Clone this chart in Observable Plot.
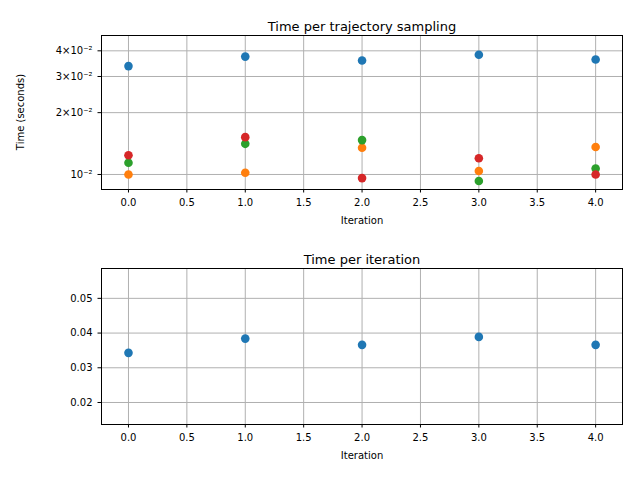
<!DOCTYPE html>
<html>
<head>
<meta charset="utf-8">
<script src="https://cdn.jsdelivr.net/npm/d3@7"></script>
<script src="https://cdn.jsdelivr.net/npm/@observablehq/plot@0.6"></script>
<style>
  body { margin: 0; background: #fff; }
  svg { display: block; font-family: "DejaVu Sans", sans-serif; }
</style>
</head>
<body>
<div id="chart"></div>
<script>
// values
const iterations = [0, 1, 2, 3, 4];
const blueTraj   = [0.0337, 0.0375, 0.0359, 0.0383, 0.0363];
const orangeTraj = [0.0100, 0.0102, 0.0135, 0.0104, 0.0136];
const greenTraj  = [0.0114, 0.0141, 0.0147, 0.0093, 0.0107];
const redTraj    = [0.0124, 0.0152, 0.0096, 0.0120, 0.0100];
const iterTime   = [0.0343, 0.0384, 0.0366, 0.0389, 0.0366];

const seriesColors = ["#1f77b4", "#ff7f0e", "#2ca02c", "#d62728"];
const trajSeries = [blueTraj, orangeTraj, greenTraj, redTraj];
const xTicks = [0, 0.5, 1, 1.5, 2, 2.5, 3, 3.5, 4];
const logTicks = [0.01, 0.02, 0.03, 0.04];
const logLabels = {0.01: "10⁻²", 0.02: "2×10⁻²", 0.03: "3×10⁻²", 0.04: "4×10⁻²"};
const linTicks = [0.02, 0.03, 0.04, 0.05];

const trajRows = [];
trajSeries.forEach((s, i) => s.forEach((v, j) => trajRows.push({x: iterations[j], y: v, c: seriesColors[i]})));
const iterRows = iterTime.map((v, j) => ({x: iterations[j], y: v, c: "#1f77b4"}));

function panel(title, rows, yOpts, yTicks, fmt, mt, mb) {
  return Plot.plot({
    width: 640, height: 240, marginLeft: 101, marginRight: 18, marginTop: mt, marginBottom: mb,
    style: {fontSize: "10px", fontFamily: "DejaVu Sans, sans-serif", color: "#000"},
    x: {domain: [-0.231, 4.23]},
    y: yOpts,
    marks: [
      Plot.gridX(xTicks, {stroke: "#b0b0b0", strokeOpacity: 1}),
      Plot.gridY(yTicks, {stroke: "#b0b0b0", strokeOpacity: 1}),
      Plot.axisX({ticks: xTicks, tickFormat: d => d.toFixed(1), tickSize: 3.5, label: "Iteration", labelAnchor: "center", labelArrow: "none", labelOffset: 34}),
      Plot.axisY({ticks: yTicks, tickFormat: fmt, tickSize: 3.5, label: null}),
      Plot.dot(rows, {x: "x", y: "y", fill: "c", r: 4.3, stroke: "none"}),
      Plot.frame({stroke: "#000"}),
      Plot.text([title], {frameAnchor: "top", dy: -14, fontSize: 13, fill: "#000"})
    ]
  });
}

const topPanel = panel("Time per trajectory sampling", trajRows,
  {type: "log", domain: [0.00845, 0.0475]}, logTicks, d => logLabels[d], 35, 51);
d3.select(topPanel).append("text").attr("transform", "translate(24,112) rotate(-90)").attr("text-anchor", "middle")
  .attr("font-size", 10).attr("fill", "#000").text("Time (seconds)");
const bottomPanel = panel("Time per iteration", iterRows,
  {domain: [0.01366, 0.0586]}, linTicks, d => d.toFixed(2), 28, 56);
document.getElementById("chart").append(topPanel, bottomPanel);
</script>
</body>
</html>
